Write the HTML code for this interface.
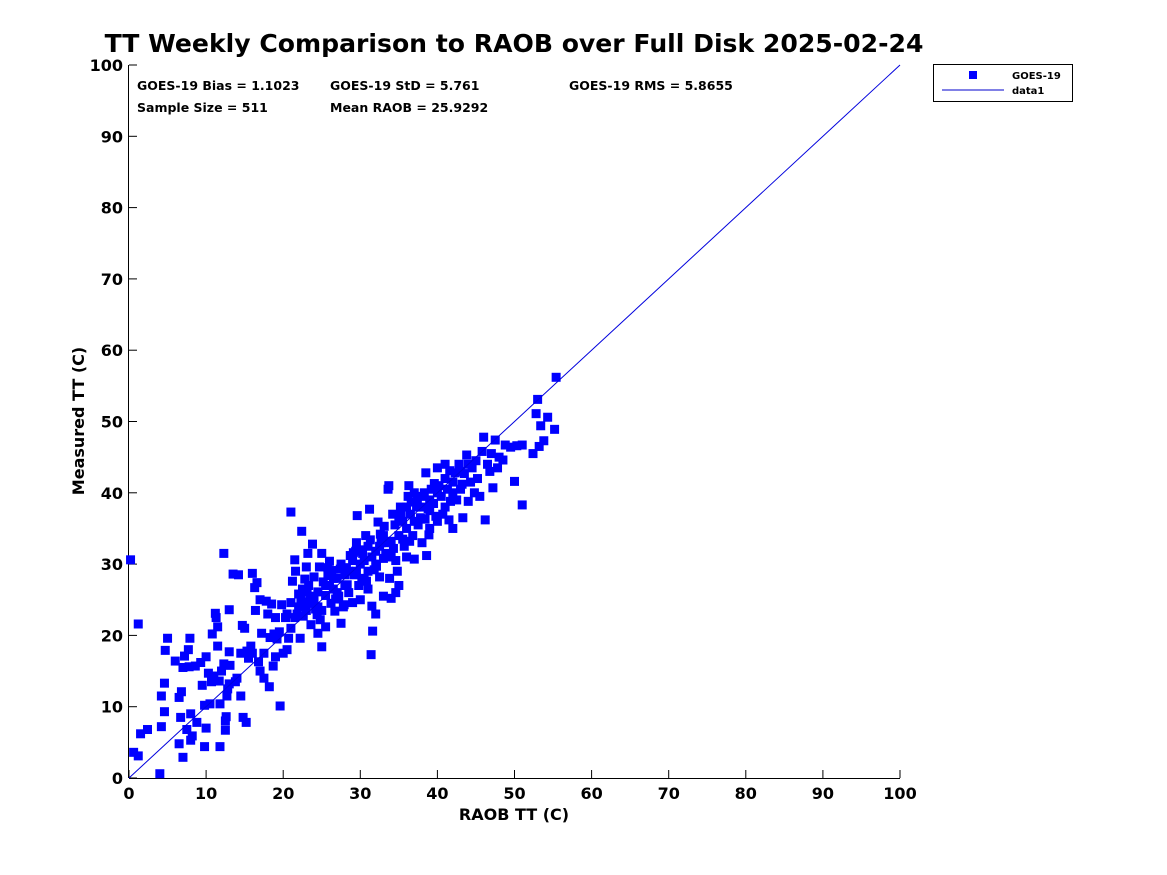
<!DOCTYPE html>
<html><head><meta charset="utf-8"><style>
html,body{margin:0;padding:0;background:#fff;}
svg{display:block;font-family:"DejaVu Sans","Liberation Sans",sans-serif;font-weight:bold;}
</style></head><body>
<svg id="chart" width="1167" height="875" viewBox="0 0 1167 875">
<rect x="0" y="0" width="1167" height="875" fill="#fff"/>
<text x="514" y="52" text-anchor="middle" font-size="25.1" fill="#000">TT Weekly Comparison to RAOB over Full Disk 2025-02-24</text>
<g id="axes"></g>
<g id="marks"></g>
<g font-size="12.5" fill="#000">
<text x="137" y="90">GOES-19 Bias = 1.1023</text>
<text x="330" y="90">GOES-19 StD = 5.761</text>
<text x="569" y="90">GOES-19 RMS = 5.8655</text>
<text x="137" y="112">Sample Size = 511</text>
<text x="330" y="112">Mean RAOB = 25.9292</text>
</g>
<text x="514" y="820" text-anchor="middle" font-size="16">RAOB TT (C)</text>
<text transform="translate(84,421) rotate(-90)" text-anchor="middle" font-size="16">Measured TT (C)</text>
<g>
<rect x="933.5" y="64.5" width="139" height="37" fill="#fff" stroke="#000" stroke-width="1"/>
<rect x="969" y="71" width="8" height="8" fill="#0000ff"/>
<text x="1012" y="79" font-size="10">GOES-19</text>
<line x1="942" y1="90" x2="1004" y2="90" stroke="#0000cc" stroke-width="1"/>
<text x="1012" y="94" font-size="10">data1</text>
</g>
</svg>
<script>
const xTicks = [0,10,20,30,40,50,60,70,80,90,100];
const yTicks = [0,10,20,30,40,50,60,70,80,90,100];
const refLine = [[0,0],[100,100]];
const raobVals = [0.2,1.2,0.6,1.2,1.5,2.4,4,4.2,4.2,4.6,4.6,4.7,5,6,6.5,6.5,6.7,6.8,7,7,7.2,7.5,7.7,7.8,7.9,8,8,8.2,8.6,8.8,9.3,9.5,9.8,9.8,10,10,10.3,10.5,10.7,10.8,11,11.2,11.3,11.5,11.5,11.7,11.8,11.8,12,12.3,12.3,12.5,12.5,12.6,12.7,12.8,13,13,13,13.1,13.5,13.8,14,14.2,14.5,14.5,14.7,14.8,15,15.2,15.3,15.5,15.8,16,16,16.3,16.4,16.6,16.8,17,17,17.2,17.5,17.5,17.8,18,18.2,18.3,18.5,18.7,18.8,19,19,19.2,19.5,19.6,19.8,20,20.3,20.5,20.7,21,21,21.2,21.5,21.6,21.8,22,22.2,22.4,22.5,22.6,22.8,23,23.2,23.3,23.5,23.6,23.8,24,24.2,24.5,24.5,24.7,25,25,25.2,25.5,25.5,25.8,26,26.2,26.5,26.7,27,27.2,27.5,27.5,27.8,28,28.2,28.5,28.7,29,29.2,29.5,29.6,29.8,30,30,30.3,30.5,30.7,31,31,31.2,31.4,31.5,31.6,31.8,32,32,32.3,32.5,32.7,33,33,33.3,33.6,33.7,33.8,34,34,34.2,34.5,34.6,34.8,35,35,35.2,35.5,35.7,36,36,36.2,36.3,36.5,36.8,37,37,37.3,37.5,37.8,38,38,38.3,38.5,38.6,38.8,39,39.2,39.5,39.8,40,40.2,40.5,40.7,41,41,41.3,41.5,41.7,42,42,42.3,42.5,42.8,43,43.3,43.5,43.8,44,44.3,44.5,44.8,45,45.2,45.5,45.8,46,46.2,46.5,46.8,47,47.2,47.5,47.8,48,48.5,48.8,49.5,50,50.3,51,51,52.4,52.8,53,53.2,53.4,53.8,54.3,55.2,55.4,
20.5,21,21.5,22,23,23.5,24,24.5,25,25.5,26,26.5,27,28,28.5,29,29.5,30,30.5,31,31.5,32,32.5,33,33.5,34,35,35.5,36,37,38,39,40,41,42,43,44,40,39,
22.3,23.1,24.4,25.8,26.8,27.4,28.3,29.1,30.2,31.3,32.1,33.1,34.3,35.3,36.4,37.4,38.4,39.6,22.8,24.8,26.3,27.9,29.4,30.8,32.6,34.6,36.6,38.9,41.6,43.2];
const measuredVals = [30.6,21.6,3.6,3.1,6.2,6.8,0.6,7.2,11.5,13.3,9.3,17.9,19.6,16.4,11.3,4.8,8.5,12.1,2.9,15.5,17.1,6.8,18,15.6,19.6,5.3,9,5.9,15.7,7.8,16.2,13,10.2,4.4,7,17,14.7,10.4,13.5,20.2,14.3,23.1,22.5,21.2,18.5,13.6,4.4,10.4,15,16,31.5,6.7,8,8.6,11.5,12.5,13.2,23.6,17.7,15.8,28.6,13.5,14,28.5,17.5,11.5,21.4,8.5,21,7.8,17.8,16.8,18.5,28.7,17.5,26.7,23.5,27.4,16.3,25,15,20.3,17.5,14,24.8,23,12.8,19.7,24.4,15.7,20.2,22.5,17,19.5,20.5,10.1,24.3,17.5,22.5,18,19.6,37.3,24.6,27.6,30.6,29,23,25.8,19.6,34.6,26.5,22.7,24.7,29.6,31.5,27,25.5,21.5,32.8,28.2,23.7,20.3,26.1,29.6,18.4,31.5,27.5,21.2,25.6,29.5,30.4,24.5,26.5,23.4,28,25.5,21.7,30,24,27,29.5,26,31.2,24.6,28.5,33,36.8,27,30,25,31.5,28,34,26.5,32.5,37.7,17.3,24.1,20.6,29.2,31.8,23,35.9,28.2,33,30.8,25.5,31.5,40.5,41,28,33.2,25.2,37,35.5,26,29,34,27,38,36,32.5,35,31,39.5,41,37,34,30.7,40,38,35.5,36.5,39.5,33,40,42.8,31.2,37.8,35,40.5,38.5,36.7,43.5,41,39.5,37,42,44,40.5,36.2,38.8,41.5,35,42.8,39,44,40.5,36.5,42.7,45.3,38.8,41.5,43.5,40,44.5,42,39.5,45.8,47.8,36.2,44,43,45.5,40.7,47.4,43.5,45,44.6,46.7,46.4,41.6,46.6,38.3,46.7,45.5,51.1,53.1,46.5,49.4,47.3,50.6,48.9,56.2,
23,21,22.5,24,23.5,24.5,25,24,23.5,27,27,28,26,28.5,29,30.5,29,32,30.5,29,31,30,32.5,34,33,31,36.5,33.5,38,36,38,39,40,38,40,43,44,36,37.5,
25.2,26.1,22.9,28.4,25.1,29.3,27.1,31.6,27.8,33.4,29.7,35.3,32.2,37.1,33.2,39.2,36.3,41.3,27.9,22.2,29.1,24.3,31.8,27.6,34.2,30.5,38.7,34.1,43.1,41.2];

const X0=129, X1=900, Y0=778, Y1=65;
function sx(v){return X0+(v-0)/(100-0)*(X1-X0);}
function sy(v){return Y0-(v-0)/(100-0)*(Y0-Y1);}
const NS='http://www.w3.org/2000/svg';
const axes=document.getElementById('axes');
const marks=document.getElementById('marks');
function mk(tag,attrs,parent){const e=document.createElementNS(NS,tag);for(const k in attrs)e.setAttribute(k,attrs[k]);parent.appendChild(e);return e;}

const xa=mk('line',{x1:X0,y1:Y0+0.5,x2:X1,y2:Y0+0.5,stroke:'#000','stroke-width':1},axes);


const ya=mk('line',{x1:X0-0.5,y1:Y0,x2:X0-0.5,y2:Y1,stroke:'#000','stroke-width':1},axes);



xTicks.forEach(function(t){
  const x=sx(t);
  const tk=mk('line',{x1:x,y1:Y0,x2:x,y2:Y0-8,stroke:'#000','stroke-width':1},axes);
  
  
  const tl=mk('text',{x:x,y:Y0+21,'text-anchor':'middle','font-size':16,fill:'#000'},axes);
  tl.textContent=t;
  
  
});
yTicks.forEach(function(t){
  const y=sy(t);
  const tk=mk('line',{x1:X0,y1:y,x2:X0+8,y2:y,stroke:'#000','stroke-width':1},axes);
  
  
  const tl=mk('text',{x:X0-6,y:y+6,'text-anchor':'end','font-size':16,fill:'#000'},axes);
  tl.textContent=t;
  
  
});

for(let i=0;i<raobVals.length;i++){
  const r=mk('rect',{x:sx(raobVals[i])-4.5,y:sy(measuredVals[i])-4.5,width:9,height:9,fill:'#0000ff'},marks);
  
  
}
const ln=mk('line',{x1:sx(refLine[0][0]),y1:sy(refLine[0][1]),x2:sx(refLine[1][0]),y2:sy(refLine[1][1]),stroke:'#0000dd','stroke-width':1},marks);


</script>
</body></html>
